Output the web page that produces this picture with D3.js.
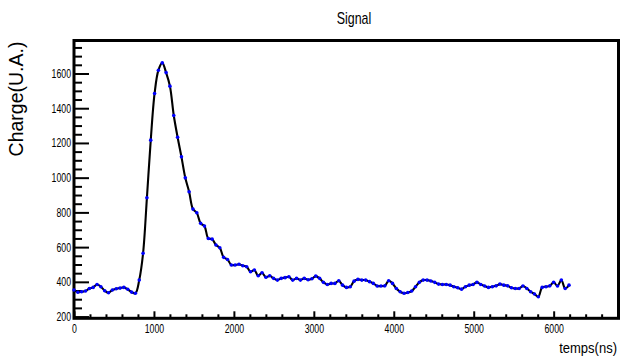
<!DOCTYPE html>
<html>
<head>
<meta charset="utf-8">
<script src="https://cdn.jsdelivr.net/npm/d3@7/dist/d3.min.js"></script>
<style>
  html, body { margin: 0; padding: 0; background: #fff; }
  svg { display: block; }
</style>
</head>
<body>
<div id="chart"></div>
<script>
const times = [
  0, 48, 96, 144, 192, 240, 288, 336, 384, 432,
  480, 528, 576, 624, 672, 720, 768, 816, 864, 912,
  960, 1008, 1056, 1104, 1152, 1200, 1248, 1296, 1344, 1392,
  1440, 1488, 1536, 1584, 1632, 1680, 1728, 1776, 1824, 1872,
  1920, 1968, 2016, 2064, 2112, 2160, 2208, 2256, 2304, 2352,
  2400, 2448, 2496, 2544, 2592, 2640, 2688, 2736, 2784, 2832,
  2880, 2928, 2976, 3024, 3072, 3120, 3168, 3216, 3264, 3312,
  3360, 3408, 3456, 3504, 3552, 3600, 3648, 3696, 3744, 3792,
  3840, 3888, 3936, 3984, 4032, 4080, 4128, 4176, 4224, 4272,
  4320, 4368, 4416, 4464, 4512, 4560, 4608, 4656, 4704, 4752,
  4800, 4848, 4896, 4944, 4992, 5040, 5088, 5136, 5184, 5232,
  5280, 5328, 5376, 5424, 5472, 5520, 5568, 5616, 5664, 5712,
  5760, 5808, 5856, 5904, 5952, 6000, 6048, 6096, 6144, 6192
];

const charge = [
  353, 340, 343, 347, 362, 368, 385, 372, 349, 337,
  353, 360, 364, 368, 357, 341, 334, 410, 564, 884,
  1216, 1485, 1619, 1661, 1605, 1527, 1358, 1233, 1120, 999,
  919, 819, 798, 737, 721, 650, 646, 612, 596, 541,
  529, 497, 497, 501, 493, 487, 458, 468, 435, 452,
  426, 435, 420, 410, 420, 424, 429, 410, 420, 410,
  420, 412, 418, 433, 420, 397, 385, 391, 391, 406,
  381, 368, 372, 404, 414, 410, 410, 401, 391, 376,
  376, 377, 406, 391, 362, 343, 334, 339, 347, 372,
  397, 410, 410, 405, 397, 387, 385, 385, 381, 372,
  366, 358, 372, 381, 385, 397, 385, 376, 368, 372,
  377, 387, 381, 377, 366, 362, 362, 376, 362, 343,
  330, 314, 368, 372, 377, 397, 376, 410, 362, 381
];

const xMajorTicks = [0, 1000, 2000, 3000, 4000, 5000, 6000];
const yMajorTicks = [200, 400, 600, 800, 1000, 1200, 1400, 1600];
const xDomain = [0, 6811];
const yDomain = [190, 1790];

const titleText = 'Signal';
const xTitle = 'temps(ns)';
const yTitle = 'Charge(U.A.)';

const width = 621;
const height = 361;
const frame = { left: 74, right: 618.5, top: 40.5, bottom: 318.3 };
const FONT = '"Liberation Sans", Arial, Helvetica, sans-serif';
const squeeze = 0.7; // the reference text is horizontally narrow

const svg = d3.select('#chart').append('svg')
  .attr('width', width)
  .attr('height', height)
  .style('background', '#fff');

const x = d3.scaleLinear().domain(xDomain).range([frame.left, frame.right]);
const y = d3.scaleLinear().domain(yDomain).range([frame.bottom, frame.top]);

const xMinor = d3.range(0, xDomain[1], 200).filter(v => v % 1000 !== 0);
const yMinor = d3.range(200, yDomain[1], 50).filter(v => v % 200 !== 0);

function styleAxis(g) {
  g.select('.domain').remove();
  g.selectAll('line').attr('stroke', '#000').attr('stroke-width', 2);
  g.selectAll('text')
    .attr('font-family', FONT)
    .attr('font-size', 12.5)
    .attr('fill', '#000');
}

// Minor ticks
svg.append('g')
  .attr('transform', `translate(0,${frame.bottom})`)
  .call(d3.axisBottom(x).tickValues(xMinor).tickSize(-4).tickFormat(''))
  .call(styleAxis);

svg.append('g')
  .attr('transform', `translate(${frame.left},0)`)
  .call(d3.axisLeft(y).tickValues(yMinor).tickSize(-8).tickFormat(''))
  .call(styleAxis);

// Major ticks + labels
svg.append('g')
  .attr('transform', `translate(0,${frame.bottom})`)
  .call(d3.axisBottom(x).tickValues(xMajorTicks).tickSize(-7).tickPadding(6).tickFormat(d3.format('d')))
  .call(styleAxis)
  .call(g => g.selectAll('text').attr('transform', `scale(${squeeze},1)`));

svg.append('g')
  .attr('transform', `translate(${frame.left},0)`)
  .call(d3.axisLeft(y).tickValues(yMajorTicks).tickSize(-15).tickPadding(3).tickFormat(d3.format('d')))
  .call(styleAxis)
  .call(g => g.selectAll('text')
    .attr('x', -3 / squeeze)
    .attr('transform', `scale(${squeeze},1)`));

// Frame
svg.append('rect')
  .attr('x', frame.left)
  .attr('y', frame.top)
  .attr('width', frame.right - frame.left)
  .attr('height', frame.bottom - frame.top)
  .attr('fill', 'none')
  .attr('stroke', '#000')
  .attr('stroke-width', 3);

// Curve
const data = times.map((t, i) => ({ t, v: charge[i] }));

const line = d3.line()
  .x(d => x(d.t))
  .y(d => y(d.v))
  .curve(d3.curveCatmullRom.alpha(0.5));

svg.append('path')
  .datum(data)
  .attr('fill', 'none')
  .attr('stroke', '#000')
  .attr('stroke-width', 2.1)
  .attr('stroke-linejoin', 'round')
  .attr('d', line);

// Markers
svg.append('g')
  .selectAll('circle')
  .data(data)
  .join('circle')
  .attr('cx', d => x(d.t))
  .attr('cy', d => y(d.v))
  .attr('r', 1.8)
  .attr('fill', '#0000ff');

// Titles
svg.append('text')
  .attr('transform', `translate(354,23.5) scale(0.73,1)`)
  .attr('text-anchor', 'middle')
  .attr('font-family', FONT)
  .attr('font-size', 17)
  .attr('fill', '#000')
  .text(titleText);

svg.append('text')
  .attr('transform', 'translate(617,353) scale(0.84,1)')
  .attr('text-anchor', 'end')
  .attr('font-family', FONT)
  .attr('font-size', 15.5)
  .attr('fill', '#000')
  .text(xTitle);

svg.append('text')
  .attr('transform', 'translate(23,99) rotate(-90)')
  .attr('text-anchor', 'middle')
  .attr('font-family', FONT)
  .attr('font-size', 19.5)
  .attr('fill', '#000')
  .text(yTitle);
</script>
</body>
</html>
